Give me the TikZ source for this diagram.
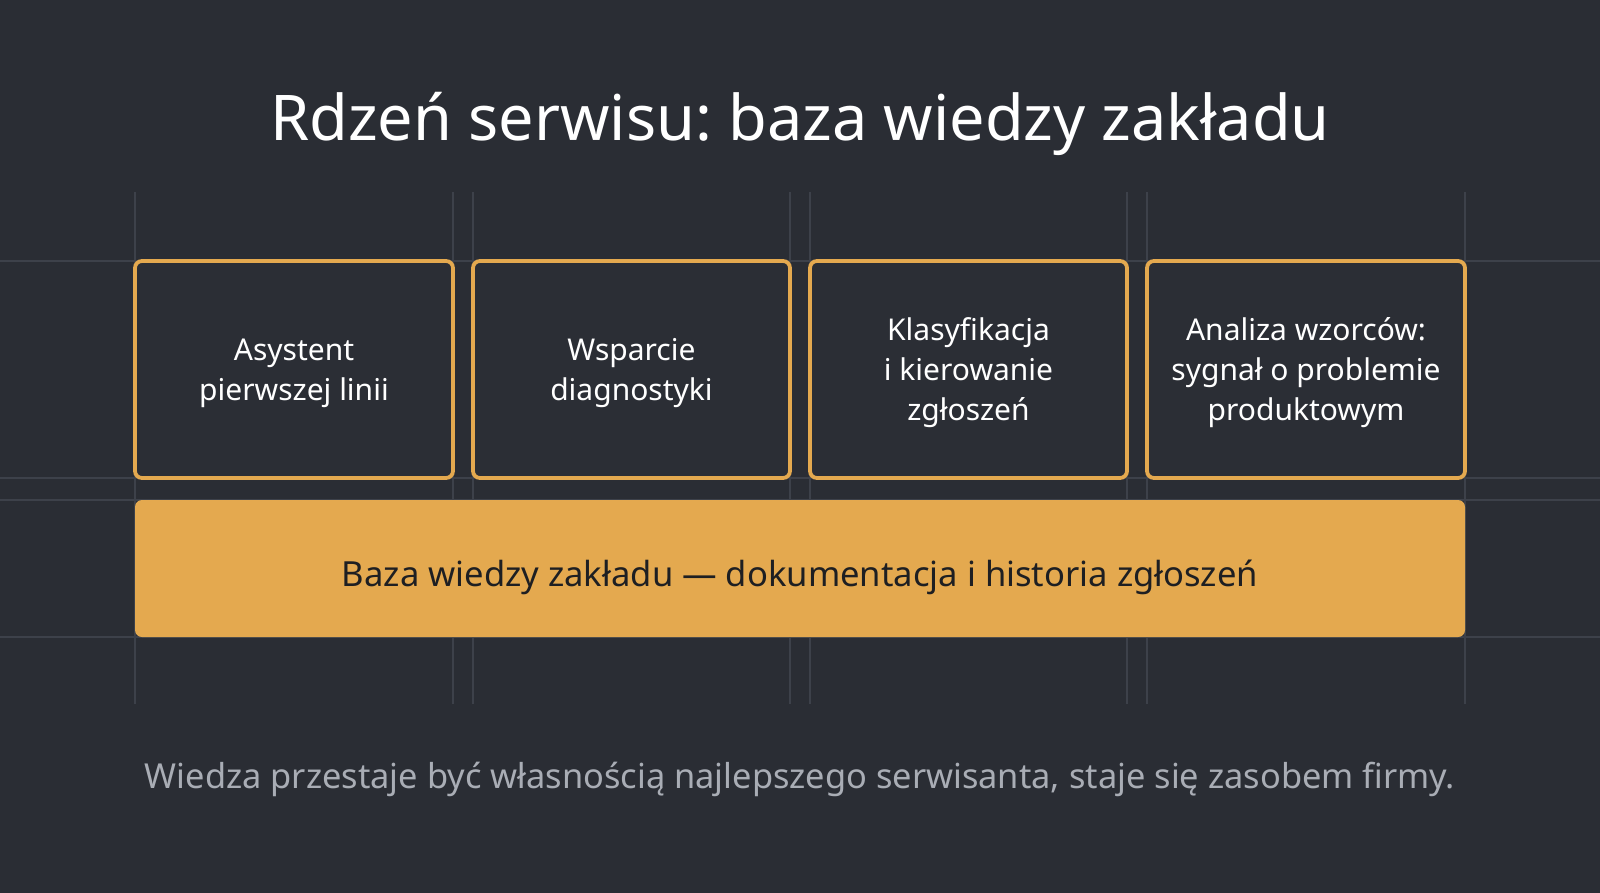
\documentclass[tikz,border=0pt]{standalone}
\usepackage{fontspec}
\setmainfont{Noto Sans}
\frenchspacing
\definecolor{bg}{HTML}{2A2D34}
\definecolor{boxfill}{HTML}{2B2E35}
\definecolor{accent}{HTML}{E4A94F}
\definecolor{gridc}{HTML}{3D414A}
\definecolor{bartext}{HTML}{1E1F22}
\definecolor{subtext}{HTML}{A9ADB5}
\tikzset{
  card/.style={draw=accent, line width=3.8pt, fill=boxfill, rounded corners=7pt, inner sep=0pt, text=white, align=center, font=\fontsize{30}{40}\selectfont},
  gridline/.style={draw=gridc, line width=1.2pt},
}
\begin{document}
\begin{tikzpicture}[x=1pt,y=-1pt]
\fill[bg] (0,0) rectangle (1600,893);
\useasboundingbox (0,0) rectangle (1600,893);
% grid
\foreach \yy in {261,478,500,637} \draw[gridline] (0,\yy) -- (1600,\yy);
\foreach \xx in {135,453,473,790,810,1127,1147,1465} \draw[gridline] (\xx,192) -- (\xx,704);
% title
\node[text=white, font=\fontsize{63}{70}\selectfont\frenchspacing, anchor=base] (title) at (800,141) {Rdzeń serwisu: baza wiedzy zakładu};
% cards
\path[card] (135,261) rectangle (453,478);
\path[card] (473,261) rectangle (790,478);
\path[card] (810,261) rectangle (1127,478);
\path[card] (1147,261) rectangle (1465,478);
\node[card, draw=none, fill=none] (c1) at (294,373) {Asystent\\pierwszej linii};
\node[card, draw=none, fill=none] (c2) at (631.5,373) {Wsparcie\\diagnostyki};
\node[card, draw=none, fill=none] (c3) at (968.5,373) {Klasyfikacja\\i kierowanie\\zgłoszeń};
\node[card, draw=none, fill=none] (c4) at (1306,373) {Analiza wzorców:\\sygnał o problemie\\produktowym};
% base bar
\fill[accent, rounded corners=7pt] (135,500) rectangle (1465,637);
\node[text=bartext, font=\fontsize{34.6}{41}\selectfont] (bar) at (800,577) {Baza wiedzy zakładu — dokumentacja i historia zgłoszeń};
% bottom
\node[text=subtext, font=\fontsize{34.4}{41}\selectfont\frenchspacing] (foot) at (800,779) {Wiedza przestaje być własnością najlepszego serwisanta, staje się zasobem firmy.};
\end{tikzpicture}
\end{document}
